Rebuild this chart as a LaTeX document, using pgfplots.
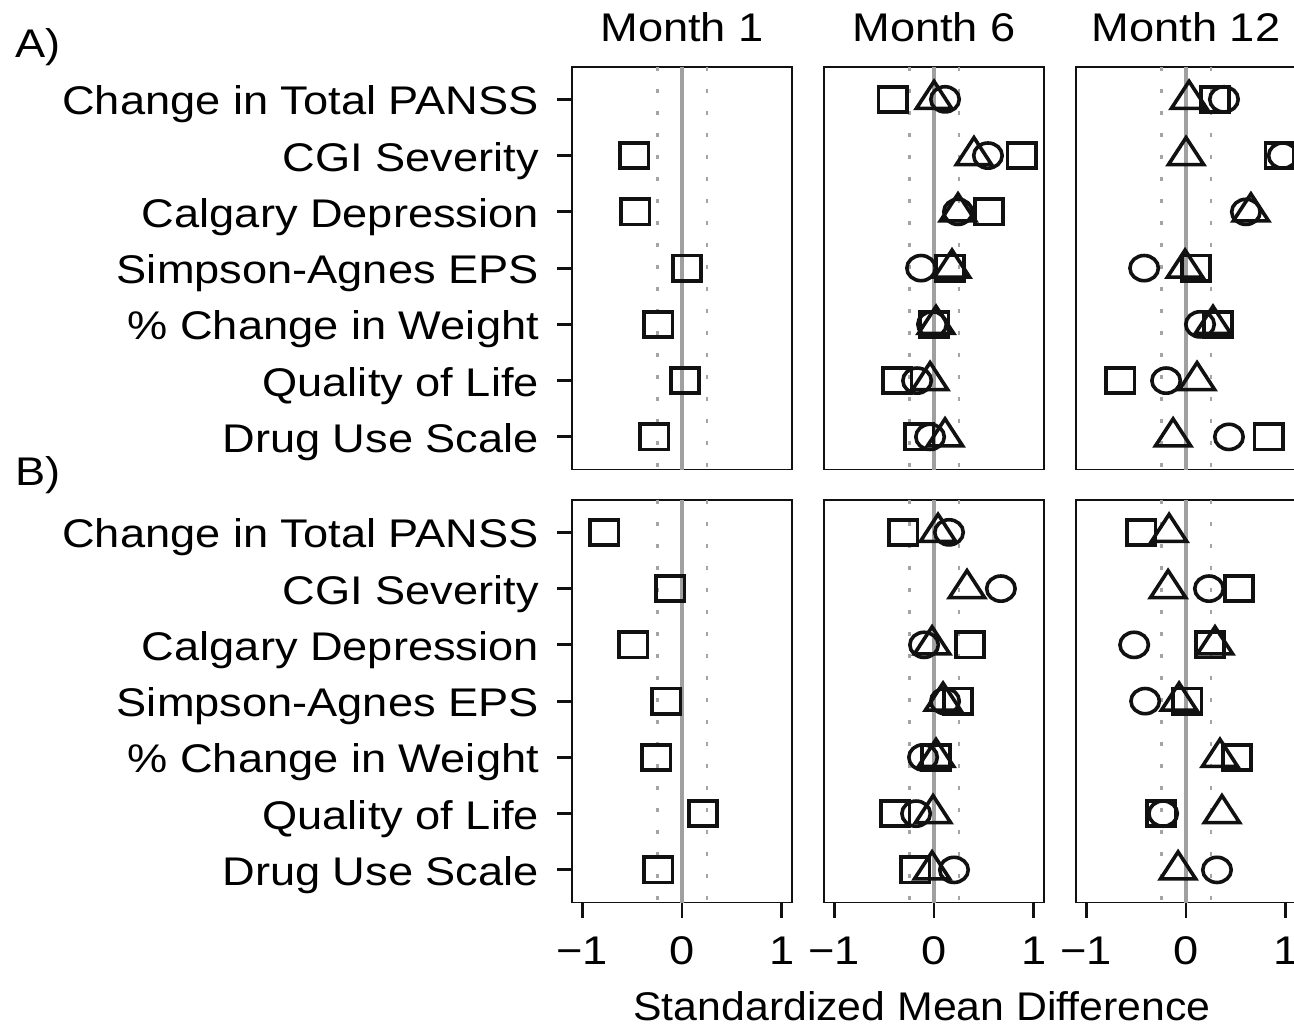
\documentclass[border=0pt]{standalone}
\usepackage{fontspec}
\setmainfont{Liberation Sans}[FakeStretch=1.13]
\newfontfamily\xlabfont{Liberation Sans}[FakeStretch=1.07]
\usepackage{pgfplots}
\pgfplotsset{compat=1.18}
\definecolor{mk}{HTML}{111111}
\definecolor{zl}{HTML}{A0A0A0}
\definecolor{dl}{HTML}{A4A4A4}
\newcommand{\bigfont}{\fontsize{20}{24}\selectfont}

\pgfplotsset{
  panel/.style={
    scale only axis, width=109.75pt, height=201.4pt,
    xmin=-1.1, xmax=1.1, ymin=0.42, ymax=7.58, y dir=reverse,
    axis line style={line width=0.95pt, mk},
    xtick=\empty, ytick=\empty,
    tick align=outside, major tick length=7.5pt,
    major tick style={line width=1.4pt, mk},
    xtick pos=left, ytick pos=left,
    tick label style={font=\bigfont},
    title style={font=\bigfont, at={(0.5,1)}, anchor=base, yshift=6.65pt, inner sep=0pt},
    anchor=south west,
  },
  ylab/.style={ytick={1,2,3,4,5,6,7},
    yticklabels={Change in Total PANSS, CGI Severity, Calgary Depression, Simpson-Agnes EPS, \% Change in Weight, Quality of Life, Drug Use Scale},
    yticklabel style={anchor=base east, inner sep=0pt, xshift=-9pt, yshift=-7.75pt}},
  xlab/.style={xtick={-1,0,1}, xticklabels={−1,0,1},
    xticklabel style={anchor=north, inner sep=0pt, text height=13.8pt, text depth=0pt, yshift=-9.6pt}},
  sq/.style={only marks, mark=square, mark size=6.3pt, mark options={xscale=1.13, line width=1.8pt, draw=mk, solid}},
  ci/.style={only marks, mark=o, mark size=6.3pt, mark options={xscale=1.13, line width=1.8pt, draw=mk, solid}},
  tr/.style={only marks, mark=triangle, mark size=9pt, mark options={xscale=1.13, line width=1.8pt, draw=mk, solid}},
}
\newcommand{\reflines}{%
  \addplot[zl, line width=1.6pt, forget plot] coordinates {(0,0.42) (0,7.58)};
  \addplot[dl, line width=1.4pt, dash pattern=on 2.3pt off 8.7pt, forget plot] coordinates {(-0.25,0.42) (-0.25,7.58)};
  \addplot[dl, line width=1.4pt, dash pattern=on 2.3pt off 8.7pt, forget plot] coordinates {(0.25,0.42) (0.25,7.58)};
}

\begin{document}
\begin{tikzpicture}
% ---------- A, Month 1
\begin{axis}[panel, ylab, title={Month 1}, at={(286.15pt,-234.75pt)}]
\reflines
\addplot[sq] coordinates {(-0.48,2) (-0.47,3) (0.05,4) (-0.24,5) (0.03,6) (-0.28,7)};
\end{axis}
% ---------- A, Month 6
\begin{axis}[panel, title={Month 6}, at={(412.15pt,-234.75pt)}]
\reflines
\addplot[sq] coordinates {(-0.415,1) (0.88,2) (0.55,3) (0.16,4) (0.0,5) (-0.37,6) (-0.15,7)};
\addplot[ci] coordinates {(0.11,1) (0.54,2) (0.24,3) (-0.13,4) (-0.02,5) (-0.17,6) (-0.04,7)};
\addplot[tr] coordinates {(0.0,1) (0.40,2) (0.24,3) (0.18,4) (0.02,5) (-0.04,6) (0.11,7)};
\end{axis}
% ---------- A, Month 12
\begin{axis}[panel, title={Month 12}, at={(538.15pt,-234.75pt)}]
\reflines
\addplot[sq] coordinates {(0.29,1) (0.94,2) (0.10,4) (0.32,5) (-0.66,6) (0.83,7)};
\addplot[ci] coordinates {(0.38,1) (0.97,2) (0.60,3) (-0.42,4) (0.14,5) (-0.20,6) (0.43,7)};
\addplot[tr] coordinates {(0.03,1) (0.0,2) (0.65,3) (-0.01,4) (0.27,5) (0.11,6) (-0.13,7)};
\end{axis}
% ---------- B, Month 1
\begin{axis}[panel, ylab, xlab, at={(286.15pt,-451.25pt)}]
\reflines
\addplot[sq] coordinates {(-0.78,1) (-0.12,2) (-0.49,3) (-0.16,4) (-0.26,5) (0.21,6) (-0.24,7)};
\end{axis}
% ---------- B, Month 6
\begin{axis}[panel, xlab, at={(412.15pt,-451.25pt)},
  xlabel={Standardized Mean Difference},
  xlabel style={font=\xlabfont\fontsize{20}{24}\selectfont, at={(axis description cs:0.5,0)}, anchor=base, xshift=-6pt, yshift=-59.1pt, inner sep=0pt}]
\reflines
\addplot[sq] coordinates {(-0.31,1) (0.36,3) (0.24,4) (0.02,5) (-0.39,6) (-0.19,7)};
\addplot[ci] coordinates {(0.15,1) (0.67,2) (-0.10,3) (0.11,4) (-0.11,5) (-0.18,6) (0.20,7)};
\addplot[tr] coordinates {(0.04,1) (0.33,2) (-0.02,3) (0.09,4) (0.02,5) (-0.01,6) (-0.02,7)};
\end{axis}
% ---------- B, Month 12
\begin{axis}[panel, xlab, at={(538.15pt,-451.25pt)}]
\reflines
\addplot[sq] coordinates {(-0.45,1) (0.53,2) (0.24,3) (0.01,4) (0.51,5) (-0.25,6)};
\addplot[ci] coordinates {(0.23,2) (-0.52,3) (-0.41,4) (-0.23,6) (0.31,7)};
\addplot[tr] coordinates {(-0.17,1) (-0.18,2) (0.29,3) (-0.07,4) (0.34,5) (0.36,6) (-0.08,7)};
\end{axis}
\node[anchor=base west, inner sep=0pt, font=\bigfont] at (7.5pt,-28.65pt) {A)};
\node[anchor=base west, inner sep=0pt, font=\bigfont] at (7.5pt,-242.5pt) {B)};
\pgfresetboundingbox
\useasboundingbox (0,0) rectangle (647pt,-513.5pt);
\end{tikzpicture}
\end{document}
